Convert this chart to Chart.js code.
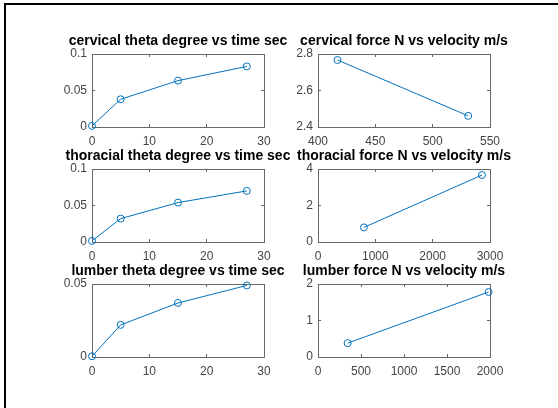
<!DOCTYPE html>
<html>
<head>
<meta charset="utf-8">
<script src="https://cdn.jsdelivr.net/npm/chart.js@4.4.1/dist/chart.umd.min.js"></script>
<style>
  body { margin: 0; background: #fff; width: 558px; height: 408px; overflow: hidden; position: relative; }
  #frame { position: absolute; left: 4px; top: 3px; width: 560px; height: 410px;
           border-top: 2px solid #000; border-left: 2px solid #000; }
  canvas { position: absolute; }
  #c1 { left: 47px;  top: 31px; }
  #c2 { left: 273px; top: 31px; }
  #c3 { left: 47px;  top: 146px; }
  #c4 { left: 273px; top: 146px; }
  #c5 { left: 47px;  top: 261px; }
  #c6 { left: 273px; top: 261px; }
</style>
</head>
<body>
<div id="frame"></div>
<canvas id="c1" width="262" height="121"></canvas>
<canvas id="c2" width="262" height="121"></canvas>
<canvas id="c3" width="262" height="121"></canvas>
<canvas id="c4" width="262" height="121"></canvas>
<canvas id="c5" width="262" height="121"></canvas>
<canvas id="c6" width="262" height="121"></canvas>
<script>
// data
const timeSec = [0, 5, 15, 27];
const cervicalTheta = [0.0015, 0.038, 0.0635, 0.083];
const thoracialTheta = [0.0015, 0.032, 0.054, 0.070];
const lumberTheta = [0.0005, 0.022, 0.037, 0.049];

const cervicalVelocity = [417, 531];
const cervicalForce = [2.767, 2.461];
const thoracialVelocity = [801, 2860];
const thoracialForce = [0.80, 3.67];
const lumberVelocity = [345, 1984];
const lumberForce = [0.38, 1.78];

// tick labels
const timeTicks = [0, 10, 20, 30];
const thetaTicks = [0, 0.05, 0.1];
const lumberThetaTicks = [0, 0.05];
const cervicalVelTicks = [400, 450, 500, 550];
const cervicalForceTicks = [2.4, 2.6, 2.8];
const thoracialVelTicks = [0, 1000, 2000, 3000];
const thoracialForceTicks = [0, 2, 4];
const lumberVelTicks = [0, 500, 1000, 1500, 2000];
const lumberForceTicks = [0, 1, 2];

const panels = [
  ["c1", "cervical theta degree vs time sec", timeSec, cervicalTheta, timeTicks, thetaTicks],
  ["c2", "cervical force N vs velocity m/s", cervicalVelocity, cervicalForce, cervicalVelTicks, cervicalForceTicks],
  ["c3", "thoracial theta degree vs time sec", timeSec, thoracialTheta, timeTicks, thetaTicks],
  ["c4", "thoracial force N vs velocity m/s", thoracialVelocity, thoracialForce, thoracialVelTicks, thoracialForceTicks],
  ["c5", "lumber theta degree vs time sec", timeSec, lumberTheta, timeTicks, lumberThetaTicks],
  ["c6", "lumber force N vs velocity m/s", lumberVelocity, lumberForce, lumberVelTicks, lumberForceTicks]
];

const BLUE = "#0072BD";
const BOX = "#666";
const FONT = "'Liberation Sans', Arial, sans-serif";

function axis(pos, ticks, size, labels) {
  return {
    type: "linear",
    position: pos,
    min: ticks[0],
    max: ticks[ticks.length - 1],
    afterBuildTicks: s => { s.ticks = ticks.map(v => ({ value: v })); },
    afterFit: s => {
      if (pos === "left" || pos === "right") s.width = size;
      else s.height = size;
    },
    grid: { drawOnChartArea: false, drawTicks: true, tickLength: -3, color: BOX, lineWidth: 1 },
    border: { display: true, color: BOX, width: 1 },
    ticks: {
      display: labels,
      autoSkip: false,
      maxRotation: 0,
      padding: pos === "left" ? 8 : 10,
      color: "#444",
      font: { family: FONT, size: 12 },
      callback: v => String(v)
    }
  };
}

panels.forEach(([id, title, xs, ys, xTicks, yTicks]) => {
  new Chart(document.getElementById(id), {
    type: "scatter",
    data: {
      datasets: [{
        data: xs.map((x, i) => ({ x: x, y: ys[i] })),
        showLine: true,
        borderColor: BLUE,
        borderWidth: 1,
        pointRadius: 3.5,
        pointBorderColor: BLUE,
        pointBackgroundColor: "rgba(0,0,0,0)",
        pointBorderWidth: 1,
        clip: false
      }]
    },
    options: {
      responsive: false,
      animation: false,
      devicePixelRatio: 1,
      layout: { padding: 0 },
      plugins: {
        legend: { display: false },
        tooltip: { enabled: false },
        title: {
          display: true,
          text: title,
          color: "#000",
          font: { family: FONT, size: 14, weight: "bold" },
          padding: { top: 2, bottom: 4.2 }
        }
      },
      scales: {
        x: axis("bottom", xTicks, 25, true),
        x2: axis("top", xTicks, 0, false),
        y: axis("left", yTicks, 45, true),
        y2: axis("right", yTicks, 45, false)
      }
    }
  });
});
</script>
</body>
</html>
